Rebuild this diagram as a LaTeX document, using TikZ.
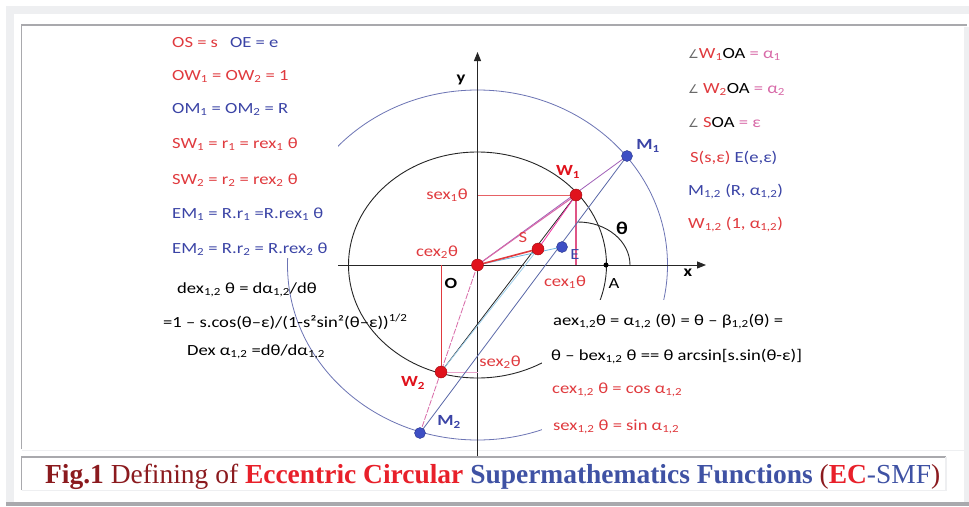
\documentclass[tikz,border=0pt]{standalone}
\usepackage{fontspec}
\usepackage{graphicx}
\setmainfont{Liberation Serif}
\newfontfamily\dia{Carlito}[FakeStretch=1.2]
\newfontfamily\symf{DejaVu Sans}
\usetikzlibrary{arrows.meta,calc}
\definecolor{tred}{HTML}{E03A3E}
\definecolor{tblue}{HTML}{3B44A6}
\definecolor{dred}{HTML}{E0121C}
\definecolor{dblue}{HTML}{3E4FC4}
\definecolor{tpink}{HTML}{D86AA8}
\definecolor{lpurple}{HTML}{A060B8}
\definecolor{lcyan}{HTML}{70B8E0}
\definecolor{mline}{HTML}{5A68A8}
\definecolor{frameg}{HTML}{A9A9AD}
\definecolor{framel}{HTML}{EEEFF1}
\definecolor{capred}{HTML}{8B1A1E}
\definecolor{capr}{HTML}{E8202A}
\definecolor{capb}{HTML}{3F52A4}
\definecolor{cgray}{HTML}{6A6A6A}
\definecolor{circb}{HTML}{6C74B4}
\newcommand\sbs[1]{\textsubscript{#1}}
\newcommand\angl{{\symf\fontsize{12}{12}\selectfont ∠}}
\newcommand\dsize{\dia\fontsize{15.5}{18}\selectfont}
\begin{document}
\begin{tikzpicture}[x=1pt,y=-1pt,
  dtext/.style={font=\dsize, inner sep=0pt, anchor=base west},
  lbl/.style={font=\dsize, inner sep=0pt},
  blbl/.style={font=\dsize\bfseries, inner sep=0pt},
  dotr/.style={circle, fill=dred, draw=dred!70!black, line width=0.4pt, inner sep=0pt, minimum size=12pt},
  dotb/.style={circle, fill=dblue, draw=dblue!70!black, line width=0.4pt, inner sep=0pt, minimum size=11pt},
  dotk/.style={circle, fill=black, inner sep=0pt, minimum size=5pt},
  axisline/.style={draw=black!85, line width=0.9pt},
  thinl/.style={line width=0.8pt}
]
\useasboundingbox (0,0) rectangle (969,506);
% frame
\fill[white] (0,0) rectangle (969,506);
\fill[framel] (6,6) rectangle (969,14);
\fill[framel] (6,6) rectangle (14,503);
\fill[framel] (964,27) rectangle (969,502);
\fill[frameg] (6,502) rectangle (969,506);
\draw[frameg, line width=1.6pt] (21.5,449) -- (21.5,25) -- (967,25);
\draw[framel, line width=1.6pt] (21.5,450.5) -- (964,450.5);
\draw[frameg, line width=1.6pt] (21.5,490) -- (21.5,457) -- (946,457);
\draw[framel, line width=1.6pt] (21.5,490.5) -- (946,490.5) -- (946,457);

% points
\coordinate (O) at (477.5,265);
\coordinate (S) at (538,249);
\coordinate (E) at (562,247);
\coordinate (W1) at (576,195);
\coordinate (M1) at (627,156);
\coordinate (W2) at (441,372);
\coordinate (M2) at (420,433);
\coordinate (A) at (606,265);
\coordinate (Tc) at (578,265);

% circles
\draw[circb, line width=0.8pt] (O) ellipse [x radius=190, y radius=175];
\draw[black!85, line width=0.9pt] (O) ellipse [x radius=129, y radius=113];
% covering panels behind text blocks
\fill[white] (150,27) rectangle (338,258);
\fill[white] (542,300) rectangle (800,445);

% axes
\coordinate (xs) at (338,265);
\coordinate (xe) at (706,265);
\coordinate (ys) at (477.5,456);
\coordinate (ye) at (477.5,52);
\draw[axisline, -{Triangle[length=9pt,width=7pt]}] (xs) -- (xe);
\draw[axisline, -{Triangle[length=9pt,width=7pt]}] (ys) -- (ye);

% projections
\coordinate (F1) at (W1 |- O);
\coordinate (G1) at (O |- W1);
\coordinate (F2) at (W2 |- O);
\coordinate (G2) at (O |- W2);
\draw[tred!80, line width=1pt] (W1) -- (G1);
\draw[tpink!80!red, line width=1.5pt] (W1) -- (F1);
\draw[tred, line width=1pt] (W2) -- (F2);
\draw[tpink!60, line width=1pt] (W2) -- (G2);

% construction lines
\draw[lpurple, thinl] (O) -- (M1);
\draw[tpink, thinl, dashed, dash pattern=on 6pt off 1.5pt] (O) -- (M2);
\draw[mline, thinl] (M2) -- (M1);
\draw[black!85, thinl] (W2) -- (W1);
\draw[lcyan, thinl] (O) -- (E);
\draw[tpink, line width=1.1pt] (O) -- (W1);
\draw[magenta!80, thinl] (S) -- (W1);
\draw[tred, line width=1.6pt] (O) -- (S);
\draw[lcyan!70, thinl] (W2) -- (S);

% theta arc
\draw[black!85, line width=0.9pt] ($(Tc)+(0,-43)$) arc[start angle=-90, end angle=0, x radius=52, y radius=43];

% dots
\node[dotr] (nO) at (O) {};
\node[dotr] (nS) at (S) {};
\node[dotb] (nE) at (E) {};
\node[dotr] (nW1) at (W1) {};
\node[dotb] (nM1) at (M1) {};
\node[dotr] (nW2) at (W2) {};
\node[dotb] (nM2) at (M2) {};
\node[dotk] (nA) at (A) {};

% diagram labels
\node[blbl] (ly) at (461,80) {y};
\node[blbl] (lx) at (688,273) {x};
\node[blbl] (lO) at (451,283) {O};
\node[lbl] (lA) at (614,284) {A};
\node[blbl, font=\dia\fontsize{18}{20}\selectfont\bfseries] (lth) at (622,228) {θ};
\node[lbl, text=tred] (lS) at (523,238) {S};
\node[lbl, text=tblue] (lE) at (575,255) {E};
\node[blbl, text=dred] (lW1) at (568,172) {W\sbs{1}};
\node[blbl, text=tblue] (lM1) at (648,146) {M\sbs{1}};
\node[blbl, text=dred] (lW2) at (413,383) {W\sbs{2}};
\node[blbl, text=tblue] (lM2) at (449,422) {M\sbs{2}};
\node[lbl, text=tred] (ls1) at (447,195) {sex\sbs{1}θ};
\node[lbl, text=tred] (lc2) at (437,252) {cex\sbs{2}θ};
\node[lbl, text=tred] (lc1) at (565,282) {cex\sbs{1}θ};
\node[lbl, text=tred] (ls2) at (500,362) {sex\sbs{2}θ};

% left column
\node[dtext] (t1) at (172,47) {\textcolor{tred}{OS = s}\hspace{12pt}\textcolor{tblue}{OE = e}};
\node[dtext, text=tred] (t2) at (172,80) {OW\sbs{1} = OW\sbs{2} = 1};
\node[dtext, text=tblue] (t3) at (172,113) {OM\sbs{1} = OM\sbs{2} = R};
\node[dtext, text=tred] (t4) at (172,148) {SW\sbs{1} = r\sbs{1} = rex\sbs{1} θ};
\node[dtext, text=tred] (t5) at (172,184) {SW\sbs{2} = r\sbs{2} = rex\sbs{2} θ};
\node[dtext, text=tblue] (t6) at (172,218) {EM\sbs{1} = R.r\sbs{1} =R.rex\sbs{1} θ};
\node[dtext, text=tblue] (t7) at (172,253) {EM\sbs{2} = R.r\sbs{2} = R.rex\sbs{2} θ};
\node[dtext] (t8) at (177,293) {dex\sbs{1,2} θ = dα\sbs{1,2}/dθ};
\node[dtext] (t9) at (163,327) {=1 – s.cos(θ–ε)/(1-s²sin²(θ–ε))\textsuperscript{1/2}};
\node[dtext] (t10) at (187,355) {Dex α\sbs{1,2} =dθ/dα\sbs{1,2}};

% right top
\node[dtext] (r1) at (688,58) {\textcolor{cgray}{\angl}\textcolor{tred}{W\sbs{1}}OA \textcolor{tpink}{= α\sbs{1}}};
\node[dtext] (r2) at (688,93) {\textcolor{cgray}{\angl} \textcolor{tred}{W\sbs{2}}OA \textcolor{tpink}{= α\sbs{2}}};
\node[dtext] (r3) at (688,127) {\textcolor{cgray}{\angl} \textcolor{tred}{S}OA \textcolor{tpink}{= ε}};
\node[dtext] (r4) at (690,162) {\textcolor{tred}{S(s,ε)} \textcolor{tblue}{E(e,ε)}};
\node[dtext, text=tblue] (r5) at (688,195) {M\sbs{1,2} (R, α\sbs{1,2})};
\node[dtext, text=tred] (r6) at (688,228) {W\sbs{1,2} (1, α\sbs{1,2})};

% right bottom
\node[dtext] (b1) at (553,325) {aex\sbs{1,2}θ = α\sbs{1,2} (θ) = θ – β\sbs{1,2}(θ) =};
\node[dtext] (b2) at (551,360) {θ – bex\sbs{1,2} θ == θ arcsin[s.sin(θ-ε)]};
\node[dtext, text=tred] (b3) at (552,393) {cex\sbs{1,2} θ = cos α\sbs{1,2}};
\node[dtext, text=tred] (b4) at (553,430) {sex\sbs{1,2} θ = sin α\sbs{1,2}};

% caption
\node[anchor=base west, inner sep=0pt] (cap) at (45,483) {\resizebox{895pt}{\height}{\fontsize{27.5}{30}\selectfont
\textcolor{capred}{\bfseries Fig.1} \textcolor{capred}{Defining of} \textcolor{capr}{\bfseries Eccentric Circular} \textcolor{capb}{\bfseries Supermathematics Functions} \textcolor{capred}{(}\textcolor{capr}{\bfseries EC}\textcolor{capb}{-SMF}\textcolor{capred}{)}}};
\end{tikzpicture}
\end{document}
